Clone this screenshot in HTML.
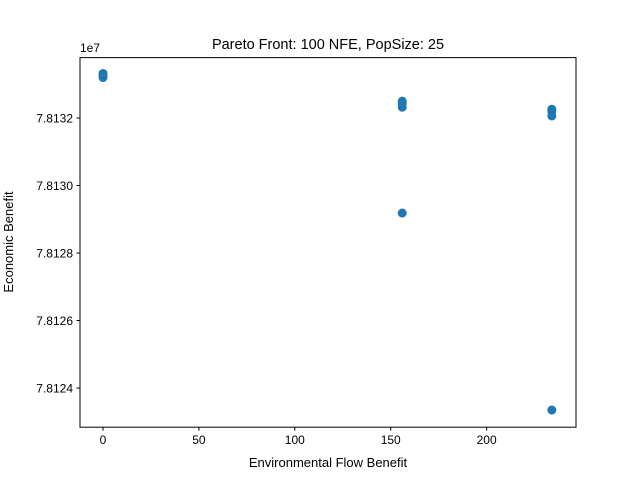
<!DOCTYPE html>
<html><head><meta charset="utf-8"><style>
body{margin:0;background:#fff;}
svg text{font-family:"Liberation Sans","DejaVu Sans",sans-serif;fill:#000;}
</style></head><body>
<svg id="chart" width="640" height="480" xmlns="http://www.w3.org/2000/svg">
<rect width="640" height="480" fill="#fff"/>
<text x="328" y="49" font-size="14.5" text-anchor="middle">Pareto Front: 100 NFE, PopSize: 25</text>
<g id="plot"></g>
<rect x="80" y="57.6" width="496" height="369.6" fill="none" stroke="#000" stroke-width="1"/>
<text x="328" y="467" font-size="13" text-anchor="middle">Environmental Flow Benefit</text>
<text transform="translate(13,242) rotate(-90)" font-size="13" text-anchor="middle">Economic Benefit</text>
<text x="80" y="52" font-size="12">1e7</text>
</svg>
<script>
const xValues=[0,0,0,156,156,156,156,234,234,234,234];
const yValues=[78133320,78133200,78133260,78132500,78132430,78132320,78129185,78132260,78132200,78132060,78123348];
const xTicks=[0,50,100,150,200];
const yTicks=[78124000,78126000,78128000,78130000,78132000];
const yTickLabels=["7.8124","7.8126","7.8128","7.8130","7.8132"];
const L=80,R=576,T=57.6,B=427.2,xmin=-12,xmax=246.6,ymin=78122839,ymax=78133790;
const sx=v=>L+(v-xmin)/(xmax-xmin)*(R-L);
const sy=v=>B-(v-ymin)/(ymax-ymin)*(B-T);
const g=document.getElementById('plot');
const NS='http://www.w3.org/2000/svg';
function mk(t,a){const e=document.createElementNS(NS,t);for(const k in a)e.setAttribute(k,a[k]);g.appendChild(e);return e;}
xTicks.forEach(v=>{
 const l=mk('line',{x1:sx(v),x2:sx(v),y1:B,y2:B+3.5,stroke:'#000'});
 
 
 const t=mk('text',{x:sx(v),y:B+17,'font-size':12,'text-anchor':'middle'});t.textContent=v;
 
 
});
yTicks.forEach((v,i)=>{
 const l=mk('line',{x1:L-3.5,x2:L,y1:sy(v),y2:sy(v),stroke:'#000'});
 
 
 const t=mk('text',{x:L-7,y:sy(v)+4.5,'font-size':12,'text-anchor':'end'});t.textContent=yTickLabels[i];
 
 
});
xValues.forEach((x,i)=>{
 const c=mk('circle',{cx:sx(x),cy:sy(yValues[i]),r:4.5,fill:'#1f77b4'});
 
 
});
</script>
</body></html>
